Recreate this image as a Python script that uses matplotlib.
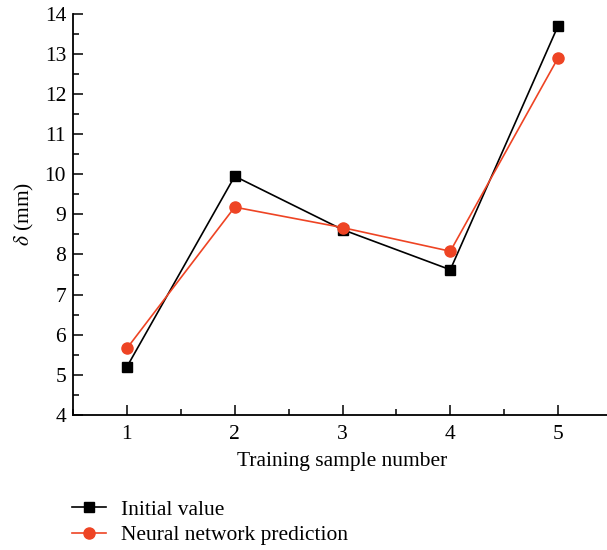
import matplotlib
matplotlib.use("Agg")
import matplotlib.pyplot as plt
from matplotlib.ticker import MultipleLocator

samples = [1, 2, 3, 4, 5]
initial_value = [5.2, 9.95, 8.62, 7.62, 13.7]
nn_prediction = [5.66, 9.18, 8.67, 8.08, 12.9]

plt.rcParams['font.family'] = ['Liberation Serif', 'DejaVu Serif']
plt.rcParams['mathtext.fontset'] = 'stix'

fs = 15.5
fig = plt.figure(figsize=(6.07, 5.5), dpi=100)
ax = fig.add_axes([73/607, 1-415/550, 539/607, (415-13.7)/550])

red = '#EE4424'
ax.plot(samples, initial_value, color='black', lw=1.2, marker='s', ms=7,
        label='Initial value', zorder=3)
ax.plot(samples, nn_prediction, color=red, lw=1.2, marker='o', ms=8,
        label='Neural network prediction', zorder=4)

ax.set_xlim(0.5, 5.5)
ax.set_ylim(4, 14)
ax.xaxis.set_major_locator(MultipleLocator(1))
ax.xaxis.set_minor_locator(MultipleLocator(0.5))
ax.yaxis.set_major_locator(MultipleLocator(1))
ax.yaxis.set_minor_locator(MultipleLocator(0.5))
for s in ['top', 'right']:
    ax.spines[s].set_visible(False)
for s in ['left', 'bottom']:
    ax.spines[s].set_linewidth(1.3)
ax.tick_params(which='both', direction='in', width=1.1, labelsize=fs)
ax.tick_params(which='major', length=7)
ax.tick_params(which='minor', length=4)
ax.tick_params(axis='x', pad=7)
ax.tick_params(axis='y', pad=5)

ax.set_xlabel('Training sample number', fontsize=fs, labelpad=6)
ax.set_ylabel(r'$\delta$ (mm)', fontsize=fs, labelpad=6)

fig.legend(loc='upper left', bbox_to_anchor=(63/607, 1-491/550), frameon=False,
           fontsize=fs, handlelength=1.6, handletextpad=0.7, labelspacing=0.25,
           borderaxespad=0)

fig.savefig('out.png', dpi=100)
